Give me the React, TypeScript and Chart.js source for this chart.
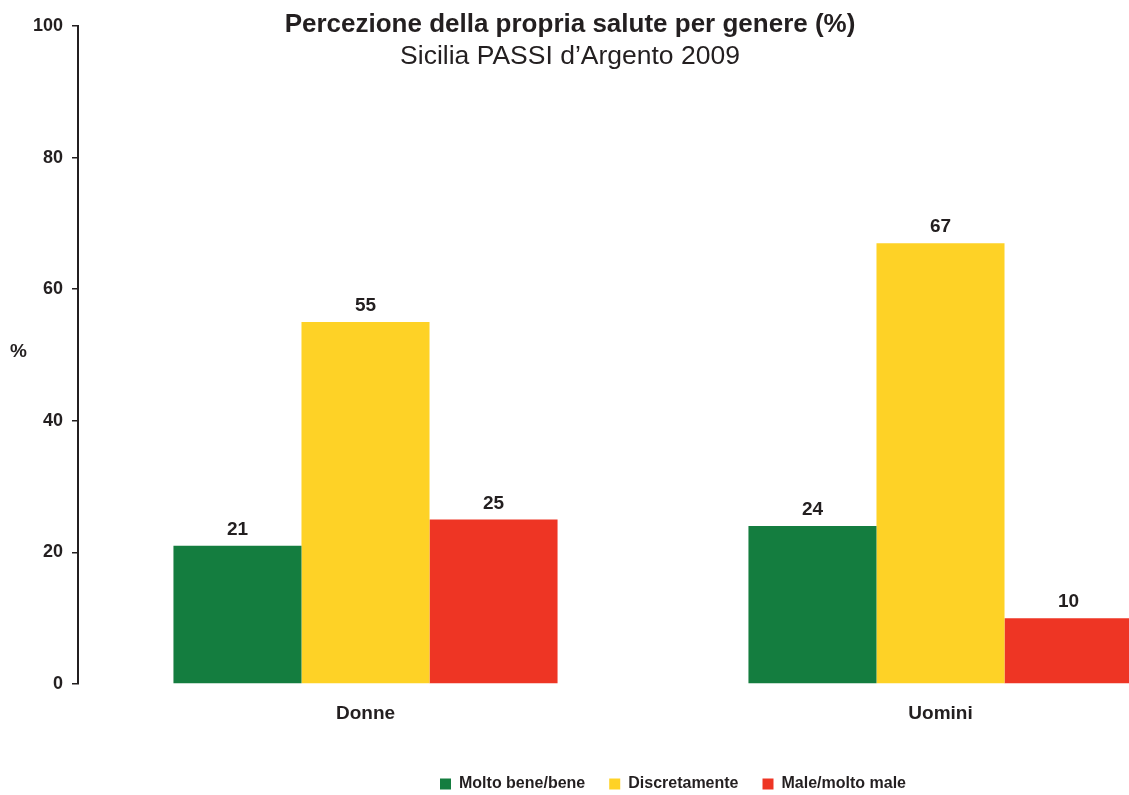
import React, { useEffect, useRef } from 'react';
import { Chart, registerables } from 'chart.js';

Chart.register(...registerables);

const categories = ['Donne', 'Uomini'];
const seriesNames = ['Molto bene/bene', 'Discretamente', 'Male/molto male'];
const moltoBeneValues = [21, 24];
const discretamenteValues = [55, 67];
const maleValues = [25, 10];
const seriesColors = ['#147D3F', '#FED226', '#EE3524'];
const yMin = 0;
const yMax = 100;
const yStep = 20;
const titleText = 'Percezione della propria salute per genere (%)';
const subtitleText = 'Sicilia PASSI d\u2019Argento 2009';
const yAxisLabel = '%';

const FONT = "'Liberation Sans', Arial, Helvetica, sans-serif";
const TEXT = '#231f20';

const customText = {
  id: 'customText',
  beforeDraw(chart: any) {
    const lg = chart.legend;
    if (lg) {
      const h = lg.bottom - lg.top;
      const pad = lg.options.labels.padding;
      lg.left = 440 - pad;
      lg.right = 1228;
      lg.width = lg.right - lg.left;
      lg.top = 784 - 8 - pad;
      lg.bottom = lg.top + h;
    }
  },
  afterDraw(chart: any) {
    const ctx = chart.ctx;
    ctx.save();
    ctx.fillStyle = TEXT;
    ctx.textAlign = 'center';
    ctx.textBaseline = 'alphabetic';
    ctx.font = `bold 26px ${FONT}`;
    ctx.fillText(titleText, 570, 32);
    ctx.font = `26.5px ${FONT}`;
    ctx.fillText(subtitleText, 570, 64);

    const y = chart.scales.y;
    ctx.font = `bold 19px ${FONT}`;
    ctx.textBaseline = 'middle';
    ctx.fillText(yAxisLabel, 18.5, (y.top + y.bottom) / 2 - 3);

    ctx.font = `bold 19px ${FONT}`;
    ctx.textBaseline = 'alphabetic';
    chart.data.datasets.forEach((ds: any, i: number) => {
      const meta = chart.getDatasetMeta(i);
      meta.data.forEach((bar: any, j: number) => {
        ctx.fillText(String(ds.data[j]), bar.x, bar.y - 11);
      });
    });
    ctx.restore();
  },
};

export default function App() {
  const ref = useRef<HTMLCanvasElement | null>(null);

  useEffect(() => {
    if (!ref.current) return;
    const values = [moltoBeneValues, discretamenteValues, maleValues];
    const chart = new Chart(ref.current, {
      type: 'bar',
      data: {
        labels: categories,
        datasets: seriesNames.map((name, i) => ({
          label: name,
          data: values[i],
          backgroundColor: seriesColors[i],
          borderWidth: 0,
          categoryPercentage: 0.668,
          barPercentage: 1,
        })),
      },
      options: {
        responsive: false,
        animation: false,
        layout: { padding: { top: 26, left: 0, right: 0, bottom: 0 } },
        plugins: {
          title: { display: false },
          tooltip: { enabled: false },
          legend: {
            display: true,
            position: 'bottom',
            align: 'start',
            labels: {
              boxWidth: 11,
              boxHeight: 11,
              padding: 24,
              color: TEXT,
              font: { family: FONT, size: 16, weight: 'bold' },
            },
          },
        },
        scales: {
          x: {
            grid: { display: false, drawTicks: false },
            border: { display: false },
            ticks: {
              color: TEXT,
              padding: 18,
              font: { family: FONT, size: 19, weight: 'bold' },
            },
            afterFit: (s: any) => {
              const lh = s.chart.legend ? s.chart.legend.height : 0;
              s.height = 111 - lh;
            },
          },
          y: {
            min: yMin,
            max: yMax,
            ticks: {
              stepSize: yStep,
              color: TEXT,
              padding: 9,
              font: { family: FONT, size: 18, weight: 'bold' },
            },
            grid: {
              display: true,
              drawOnChartArea: false,
              drawTicks: true,
              tickLength: 6,
              color: TEXT,
              lineWidth: 1.5,
            },
            border: { display: true, color: TEXT, width: 2 },
            afterFit: (s: any) => {
              s.width = 78;
            },
          },
        },
      },
      plugins: [customText],
    } as any);
    return () => chart.destroy();
  }, []);

  return (
    <div
      style={{
        position: 'absolute',
        left: 0,
        top: 0,
        width: 1129,
        height: 795,
        overflow: 'hidden',
        background: '#ffffff',
      }}
    >
      <canvas
        ref={ref}
        width={1228}
        height={795}
        style={{ display: 'block', width: 1228, height: 795 }}
      />
    </div>
  );
}
